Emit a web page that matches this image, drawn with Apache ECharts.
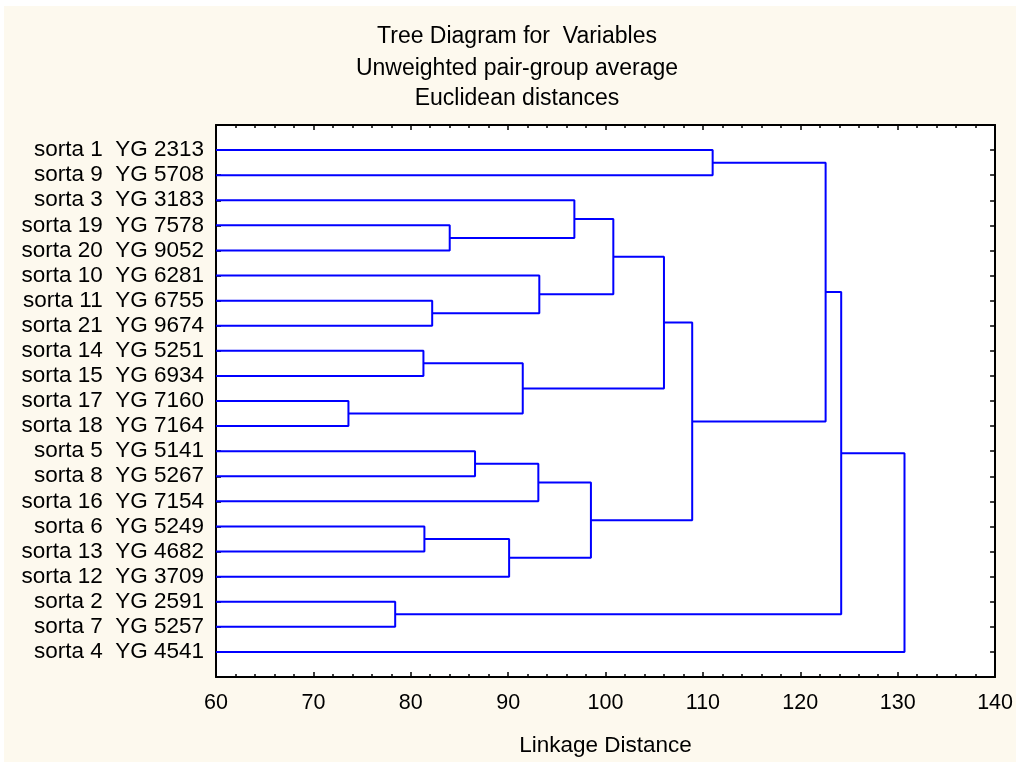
<!DOCTYPE html>
<html>
<head>
<meta charset="utf-8">
<script src="https://cdn.jsdelivr.net/npm/echarts@6/dist/echarts.min.js"></script>
<style>
html,body{margin:0;padding:0;background:#ffffff;}
#chart{width:1016px;height:762px;}
</style>
</head>
<body>
<div id="chart"></div>
<script>
// Leaves in dendrogram order (top to bottom)
const leafLabels = [
  'sorta 1  YG 2313','sorta 9  YG 5708','sorta 3  YG 3183','sorta 19  YG 7578',
  'sorta 20  YG 9052','sorta 10  YG 6281','sorta 11  YG 6755','sorta 21  YG 9674',
  'sorta 14  YG 5251','sorta 15  YG 6934','sorta 17  YG 7160','sorta 18  YG 7164',
  'sorta 5  YG 5141','sorta 8  YG 5267','sorta 16  YG 7154','sorta 6  YG 5249',
  'sorta 13  YG 4682','sorta 12  YG 3709','sorta 2  YG 2591','sorta 7  YG 5257',
  'sorta 4  YG 4541'
];
// Merges: child ids (0..20 = leaves, 21+k = k-th merge) and linkage distance
const mergeLeft   = [10, 18,  8, 15,  6,  3, 12, 24, 23, 27,  5,  2, 30, 32, 34, 35,   0, 37, 38, 39];
const mergeRight  = [11, 19,  9, 16,  7,  4, 13, 17, 21, 14, 25, 26, 28, 31, 29, 33,   1, 36, 22, 20];
const mergeHeight = [73.6,78.4,81.3,81.4,82.2,84.0,86.6,90.1,91.5,93.1,93.2,96.8,98.5,100.8,106.0,108.9,111.0,122.6,124.2,130.7];
const xTicks = { min: 60, max: 140, interval: 10 };
const titleLines = ['Tree Diagram for  Variables', 'Unweighted pair-group average', 'Euclidean distances'];
const xAxisName = 'Linkage Distance';

const nLeaf = leafLabels.length;
const pos = [], hgt = [];
for (let i = 0; i < nLeaf; i++) { pos.push(i + 1); hgt.push(xTicks.min); }
const series = [];
for (let k = 0; k < mergeHeight.length; k++) {
  const a = mergeLeft[k], b = mergeRight[k], h = mergeHeight[k];
  series.push({
    type: 'line', showSymbol: false, symbol: 'none', silent: true, animation: false,
    xAxisIndex: 0, yAxisIndex: 0,
    lineStyle: { color: '#0000ff', width: 2 },
    data: [[hgt[a], pos[a]], [h, pos[a]], [h, pos[b]], [hgt[b], pos[b]]]
  });
  pos.push((pos[a] + pos[b]) / 2);
  hgt.push(h);
}

const FONT = 'Liberation Sans, Arial, sans-serif';
const chart = echarts.init(document.getElementById('chart'));
const axisLineStyle = { color: '#000', width: 2 };
function xAx(pos, labels) {
  return {
    type: 'value', position: pos, min: xTicks.min, max: xTicks.max, interval: xTicks.interval,
    axisLine: { show: true, onZero: false, lineStyle: axisLineStyle },
    axisTick: { show: true, inside: true, length: 5, lineStyle: { color: '#000', width: 1.5 } },
    minorTick: { show: true, splitNumber: 5, length: 3, lineStyle: { color: '#000', width: 1.5 } },
    splitLine: { show: false },
    axisLabel: labels ? { show: true, margin: 15, color: '#000', fontSize: 21.5, fontFamily: FONT } : { show: false },
    name: labels ? xAxisName : '', nameLocation: 'middle', nameGap: 57,
    nameTextStyle: { color: '#000', fontSize: 22.5, fontFamily: FONT }
  };
}
function yAx(pos, labels) {
  return {
    type: 'value', position: pos, min: 0, max: nLeaf + 1, interval: 1, inverse: true,
    axisLine: { show: true, onZero: false, lineStyle: axisLineStyle },
    axisTick: { show: true, inside: true, length: 5, lineStyle: { color: '#000', width: 1.5 } },
    splitLine: { show: false },
    axisLabel: labels ? {
      show: true, margin: 12, color: '#000', fontSize: 22.5, fontFamily: FONT,
      formatter: v => (v >= 1 && v <= nLeaf) ? leafLabels[v - 1] : ''
    } : { show: false }
  };
}
chart.setOption({
  backgroundColor: '#ffffff',
  animation: false,
  graphic: [{ type: 'rect', z: -10, shape: { x: 4, y: 6, width: 1012, height: 756 }, style: { fill: '#fdf9ee' } }],
  title: titleLines.map((t, i) => ({
    text: t, left: 512, textAlign: 'center', top: [20, 52, 82][i],
    textStyle: { color: '#000', fontSize: 23, fontWeight: 'normal', fontFamily: FONT }
  })),
  grid: { left: 216, right: 19, top: 125, bottom: 84, show: true, backgroundColor: '#ffffff', borderWidth: 0 },
  xAxis: [xAx('bottom', true), xAx('top', false)],
  yAxis: [yAx('left', true), yAx('right', false)],
  series: series
});
</script>
</body>
</html>
